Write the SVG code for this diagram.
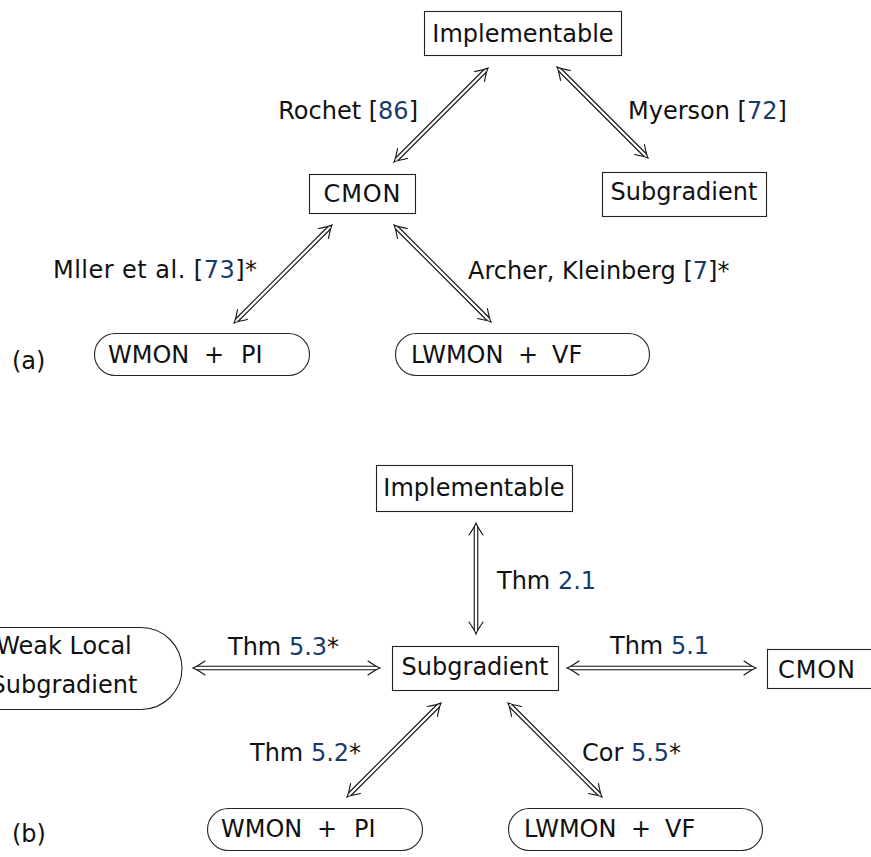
<svg xmlns="http://www.w3.org/2000/svg" xmlns:xlink="http://www.w3.org/1999/xlink" width="871" height="857" viewBox="0 0 871 857">
<style>
  text { font-family: "DejaVu Sans", "Liberation Sans", sans-serif; font-size: 24px; fill: #111; }
  .c { text-anchor: middle; }
  .e { text-anchor: end; }
  .ref { fill: #173c6c; }
  .box { fill: #fff; stroke: #222; stroke-width: 1.1; }
  .out { fill: none; stroke: #111; stroke-width: 4.6; }
  .in { fill: none; stroke: #fff; stroke-width: 2.4; }
  .ah { fill: none; stroke: #111; stroke-width: 1.1; stroke-linecap: round; }
</style>
<defs>
  <path id="ah" class="ah" d="M-12,-7 Q-4,-1.5 0,0 Q-4,1.5 -12,7"/>
</defs>
<rect width="871" height="857" fill="#fff"/>

<g id="connectors">
  <line class="out" x1="485" y1="71" x2="397" y2="159"/><line class="in" x1="485" y1="71" x2="397" y2="159"/>
  <use xlink:href="#ah" transform="translate(488,68) rotate(-45)"/>
  <use xlink:href="#ah" transform="translate(394,162) rotate(135)"/>
  <line class="out" x1="560" y1="70" x2="645" y2="155"/><line class="in" x1="560" y1="70" x2="645" y2="155"/>
  <use xlink:href="#ah" transform="translate(557,67) rotate(-135)"/>
  <use xlink:href="#ah" transform="translate(648,158) rotate(45)"/>
  <line class="out" x1="329" y1="228" x2="237" y2="320"/><line class="in" x1="329" y1="228" x2="237" y2="320"/>
  <use xlink:href="#ah" transform="translate(332,225) rotate(-45)"/>
  <use xlink:href="#ah" transform="translate(234,323) rotate(135)"/>
  <line class="out" x1="397" y1="228" x2="488" y2="319"/><line class="in" x1="397" y1="228" x2="488" y2="319"/>
  <use xlink:href="#ah" transform="translate(394,225) rotate(-135)"/>
  <use xlink:href="#ah" transform="translate(491,322) rotate(45)"/>

  <line class="out" x1="476" y1="527" x2="476" y2="630"/><line class="in" x1="476" y1="527" x2="476" y2="630"/>
  <use xlink:href="#ah" transform="translate(476,523) rotate(-90)"/>
  <use xlink:href="#ah" transform="translate(476,634) rotate(90)"/>
  <line class="out" x1="197" y1="668" x2="376" y2="668"/><line class="in" x1="197" y1="668" x2="376" y2="668"/>
  <use xlink:href="#ah" transform="translate(193,668) rotate(180)"/>
  <use xlink:href="#ah" transform="translate(380,668)"/>
  <line class="out" x1="571" y1="668" x2="752" y2="668"/><line class="in" x1="571" y1="668" x2="752" y2="668"/>
  <use xlink:href="#ah" transform="translate(567,668) rotate(180)"/>
  <use xlink:href="#ah" transform="translate(756,668)"/>
  <line class="out" x1="438" y1="706" x2="350" y2="794"/><line class="in" x1="438" y1="706" x2="350" y2="794"/>
  <use xlink:href="#ah" transform="translate(441,703) rotate(-45)"/>
  <use xlink:href="#ah" transform="translate(347,797) rotate(135)"/>
  <line class="out" x1="511" y1="706" x2="599" y2="794"/><line class="in" x1="511" y1="706" x2="599" y2="794"/>
  <use xlink:href="#ah" transform="translate(508,703) rotate(-135)"/>
  <use xlink:href="#ah" transform="translate(602,797) rotate(45)"/>
</g>

<g id="edge-labels">
  <text class="e" x="418" y="119">Rochet [<tspan class="ref">86</tspan>]</text>
  <text x="628" y="119">Myerson [<tspan class="ref">72</tspan>]</text>
  <text x="53" y="278" textLength="204" lengthAdjust="spacing">Mller et al. [<tspan class="ref">73</tspan>]*</text>
  <text x="468" y="279">Archer, Kleinberg [<tspan class="ref">7</tspan>]*</text>
  <text x="497" y="589">Thm <tspan class="ref">2.1</tspan></text>
  <text x="228" y="655">Thm <tspan class="ref">5.3</tspan>*</text>
  <text x="610" y="654">Thm <tspan class="ref">5.1</tspan></text>
  <text x="250" y="761">Thm <tspan class="ref">5.2</tspan>*</text>
  <text x="582" y="761">Cor <tspan class="ref">5.5</tspan>*</text>
</g>

<g id="label-a"><text x="12" y="369">(a)</text></g>
<g id="label-b"><text x="12" y="842">(b)</text></g>

<g id="a-implementable">
  <rect class="box" x="424.5" y="11.5" width="197" height="44"/>
  <text class="c" x="523" y="42">Implementable</text>
</g>
<g id="a-cmon">
  <rect class="box" x="309.5" y="174.5" width="106" height="39"/>
  <text class="c" x="362" y="202" textLength="77" lengthAdjust="spacing">CMON</text>
</g>
<g id="a-subgradient">
  <rect class="box" x="602.5" y="172.5" width="164" height="44"/>
  <text class="c" x="684" y="200">Subgradient</text>
</g>
<g id="a-wmon-pi">
  <rect class="box" x="94.5" y="333.5" width="215" height="42" rx="21"/>
  <text y="363"><tspan x="108">WMON</tspan><tspan x="204">+</tspan><tspan x="241">PI</tspan></text>
</g>
<g id="a-lwmon-vf">
  <rect class="box" x="395.5" y="333.5" width="254" height="42" rx="21"/>
  <text y="363"><tspan x="411">LWMON</tspan><tspan x="518">+</tspan><tspan x="552">VF</tspan></text>
</g>

<g id="b-implementable">
  <rect class="box" x="376.5" y="465.5" width="196" height="46"/>
  <text class="c" x="474" y="496">Implementable</text>
</g>
<g id="b-subgradient">
  <rect class="box" x="392.5" y="646.5" width="166" height="44"/>
  <text class="c" x="475" y="675">Subgradient</text>
</g>
<g id="b-cmon">
  <rect class="box" x="767.5" y="649.5" width="106" height="39"/>
  <text x="778" y="678" textLength="77" lengthAdjust="spacing">CMON</text>
</g>
<g id="b-weak-local-subgradient">
  <rect class="box" x="-60" y="627.5" width="242" height="82" rx="41"/>
  <text class="c" x="64" y="654">Weak Local</text>
  <text class="c" x="64" y="693">Subgradient</text>
</g>
<g id="b-wmon-pi">
  <rect class="box" x="207.5" y="808.5" width="215" height="42" rx="21"/>
  <text y="837"><tspan x="221">WMON</tspan><tspan x="317">+</tspan><tspan x="354">PI</tspan></text>
</g>
<g id="b-lwmon-vf">
  <rect class="box" x="508.5" y="808.5" width="254" height="42" rx="21"/>
  <text y="837"><tspan x="524">LWMON</tspan><tspan x="631">+</tspan><tspan x="665">VF</tspan></text>
</g>
</svg>
